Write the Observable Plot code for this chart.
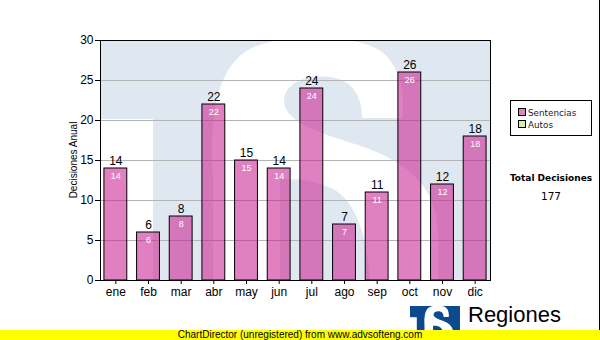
<!DOCTYPE html>
<html><head><meta charset="utf-8">
<script src="https://cdn.jsdelivr.net/npm/d3@7"></script>
<script src="https://cdn.jsdelivr.net/npm/@observablehq/plot@0.6"></script>
<style>
body{margin:0;background:#fff;}
#wrap{position:relative;width:600px;height:340px;overflow:hidden;font-family:"Liberation Sans",Arial,sans-serif;background:#fff;}
#wm{position:absolute;left:100px;top:40px;}
#chart{position:absolute;left:0;top:0;}
#ylabel{position:absolute;left:73px;top:160px;transform:translate(-50%,-50%) rotate(-90deg);font-size:10px;white-space:nowrap;color:#000;}
#legend{position:absolute;left:510px;top:100px;width:82px;height:36px;border:1px solid #000;box-sizing:border-box;font:8.8px "DejaVu Sans",Verdana,sans-serif;color:#222;}
#legend .it{position:absolute;left:7px;height:11px;line-height:11px;white-space:nowrap;}
#legend .sw{display:inline-block;width:6px;height:6px;border:1px solid #000;margin-right:2px;vertical-align:0px;}
#total{position:absolute;left:551px;top:173px;transform:translateX(-50%);font:bold 9px "DejaVu Sans",Verdana,sans-serif;white-space:nowrap;color:#000;}
#totalv{position:absolute;left:551px;top:190px;transform:translateX(-50%);font:10.5px "DejaVu Sans",Verdana,sans-serif;color:#000;}
#logo{position:absolute;left:410px;top:306px;}
#regiones{position:absolute;left:468px;top:302px;font:22px "Liberation Sans",Arial,sans-serif;color:#000;}
#banner{position:absolute;left:0;top:330px;width:600px;height:10px;background:#ffff00;font:10px "Liberation Sans",Arial,sans-serif;line-height:10px;text-align:center;color:#000;}
#rb{position:absolute;left:599px;top:0;width:1px;height:330px;background:#000;}
</style></head><body>
<div id="wrap">
  <div id="wm"></div>
  <div id="chart"></div>
  <div id="ylabel">Decisiones Anual</div>
  <div id="legend"></div>
  <div id="total">Total Decisiones</div>
  <div id="totalv"></div>
  <div id="logo"></div>
  <div id="regiones">Regiones</div>
  <div id="rb"></div>
  <div id="banner">ChartDirector (unregistered) from www.advsofteng.com</div>
</div>
<script>
const months = ["ene","feb","mar","abr","may","jun","jul","ago","sep","oct","nov","dic"];
const sentencias = [14,6,8,22,15,14,24,7,11,26,12,18];
const yTicks = [0,5,10,15,20,25,30];
const yGrid = [5,10,15,20,25];
const seriesNames = ["Sentencias","Autos"];
const seriesColors = ["#e080c0","#d9f0a3"];
const totalDecisiones = 177;

const data = months.map((m,i)=>({mes:m, valor:sentencias[i]}));

// decorative "TS" emblem (watermark behind plot area and small logo)
const sPath = "M113,245 L113,140 C110,90 112,35 145,12 C175,-8 255,-8 282,12 C300,26 306,55 302,78 L262,78 C262,60 255,42 235,38 C205,32 183,45 184,62 C185,80 215,92 255,104 C305,120 338,145 338,195 L338,245 L270,245 C268,200 258,165 235,150 C215,140 195,138 180,140 L180,245 Z";
function emblem(w, h, bg){
  return `<svg width="${w}" height="${h}" viewBox="0 0 390 240" preserveAspectRatio="none" style="display:block;overflow:hidden">
    <rect x="0" y="0" width="390" height="240" fill="${bg}"/>
    <rect x="0" y="79" width="53" height="170" fill="#fff"/>
    <path d="${sPath}" fill="#fff"/>
  </svg>`;
}
document.getElementById("wm").innerHTML = emblem(390, 240, "#dfe8f1");
document.getElementById("logo").innerHTML = emblem(50, 34, "#0b4a8e");

const chart = Plot.plot({
  width:600, height:310,
  marginLeft:100, marginRight:110, marginTop:40, marginBottom:30,
  style:{background:"transparent", fontFamily:"Liberation Sans, Arial, sans-serif", fontSize:"12px", color:"#000", overflow:"visible"},
  x:{domain:months, paddingInner:0.3, paddingOuter:0.12, round:false, label:null},
  y:{domain:[0,30], label:null},
  marks:[
    Plot.gridY(yGrid,{stroke:"#b4b4b4", strokeOpacity:1}),
    Plot.barY(data,{x:"mes", y:"valor", fill:"#c8188c", fillOpacity:0.55, stroke:"#000", strokeWidth:1}),
    Plot.text(data,{x:"mes", y:"valor", text:d=>String(d.valor), dy:-7, fill:"#000", fontSize:12}),
    Plot.text(data,{x:"mes", y:"valor", text:d=>String(d.valor), dy:8, fill:"#fff", fontSize:9}),
    Plot.frame({stroke:"#000"}),
    Plot.axisY(yTicks,{tickSize:5, tickPadding:2, fontSize:12, label:null}),
    Plot.axisX({tickSize:4, tickPadding:3, fontSize:12, label:null})
  ]
});
document.getElementById("chart").appendChild(chart);

const legend = document.getElementById("legend");
seriesNames.forEach((n,i)=>{
  const it = document.createElement("div");
  it.className = "it";
  it.style.top = (7 + i*11.5) + "px";
  it.innerHTML = `<span class="sw" style="background:${seriesColors[i]}"></span>${n}`;
  legend.appendChild(it);
});
document.getElementById("totalv").textContent = totalDecisiones;
</script>
</body></html>
